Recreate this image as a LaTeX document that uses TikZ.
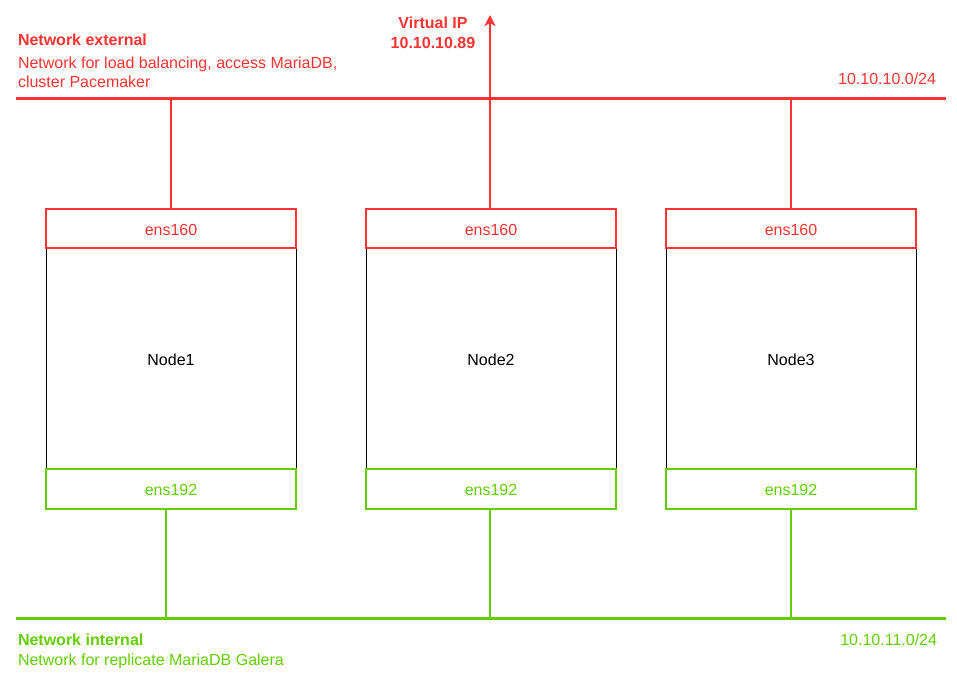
\documentclass[tikz,border=0pt]{standalone}
\usepackage{fontspec}
\setmainfont{Liberation Sans}
\usetikzlibrary{arrows.meta}
\definecolor{netred}{HTML}{FF3333}
\definecolor{netgreen}{HTML}{66CC00}
\newcommand{\boxtext}[1]{\raisebox{-1.5pt}[\height][0pt]{#1}}
\begin{document}
\begin{tikzpicture}[x=1pt,y=-1pt,
  every node/.style={font=\fontsize{16}{19}\selectfont, inner sep=0pt, outer sep=0pt},
  hostbox/.style={draw=black, line width=1pt, minimum width=250pt, minimum height=220pt, fill=white},
  nicred/.style={draw=netred, line width=2pt, text=netred, minimum width=250pt, minimum height=39pt, fill=white},
  nicgreen/.style={draw=netgreen, line width=2pt, text=netgreen, minimum width=250pt, minimum height=40pt, fill=white},
  bus/.style={line width=3pt},
  link/.style={line width=2pt},
  title/.style={font=\fontsize{16}{19}\selectfont\bfseries}
]
\useasboundingbox (0,0) rectangle (957,679);

% bus lines
\coordinate (extL) at (16,99);
\coordinate (extR) at (946,99);
\coordinate (intL) at (16,618);
\coordinate (intR) at (946,618);
\draw[bus, netred] (extL) -- (extR);
\draw[bus, netgreen] (intL) -- (intR);

% hosts
\node[hostbox] (h1) at (171,358) {\boxtext{Node1}};
\node[hostbox] (h2) at (491,358) {\boxtext{Node2}};
\node[hostbox] (h3) at (791,358) {\boxtext{Node3}};

\node[nicred] (e1) at (171,228.5) {\boxtext{ens160}};
\node[nicred] (e2) at (491,228.5) {\boxtext{ens160}};
\node[nicred] (e3) at (791,228.5) {\boxtext{ens160}};

\node[nicgreen] (i1) at (171,488.5) {\boxtext{ens192}};
\node[nicgreen] (i2) at (491,488.5) {\boxtext{ens192}};
\node[nicgreen] (i3) at (791,488.5) {\boxtext{ens192}};

% connectors to external bus
\draw[link, netred] (e1.north) -- (e1.north |- extL);
\draw[link, netred] (e3.north) -- (e3.north |- extL);
\coordinate (vip) at (490,15);
\draw[link, netred, -{Stealth[length=11pt,width=11pt,inset=3pt]}] (e2.north -| vip) -- (vip);

% connectors to internal bus
\coordinate (b1) at (166,618);
\coordinate (b2) at (490,618);
\coordinate (b3) at (791,618);
\draw[link, netgreen] (i1.south -| b1) -- (b1);
\draw[link, netgreen] (i2.south -| b2) -- (b2);
\draw[link, netgreen] (i3.south -| b3) -- (b3);

% labels external
\node[title, text=netred, anchor=base west] (extT) at (18,45.5) {Network external};
\node[text=netred, anchor=north west, align=left] (extD) at (18,56.8) {Network for load balancing, access MariaDB,\\cluster Pacemaker};
\node[text=netred, anchor=base east] (extN) at (936,85) {10.10.10.0/24};
\node[title, text=netred, align=center, anchor=north, font=\fontsize{16}{20}\selectfont\bfseries] (vipT) at (433,17.3) {Virtual IP\\10.10.10.89};

% labels internal
\node[title, text=netgreen, anchor=base west] (intT) at (18,645.5) {Network internal};
\node[text=netgreen, anchor=base west] (intD) at (18,665.5) {Network for replicate MariaDB Galera};
\node[text=netgreen, anchor=base east] (intN) at (937,645.5) {10.10.11.0/24};
\end{tikzpicture}
\end{document}
